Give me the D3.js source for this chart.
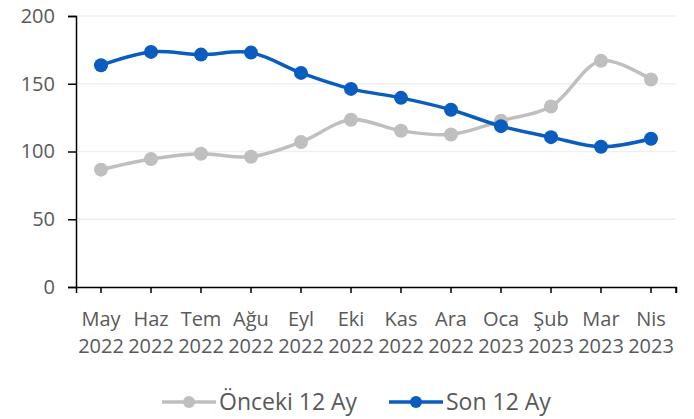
<!DOCTYPE html>
<html>
<head>
<meta charset="utf-8">
<script src="https://cdn.jsdelivr.net/npm/d3@7"></script>
<style>
  body { margin: 0; background: #fff; }
  svg text { font-family: "Open Sans", sans-serif; fill: #595959; }
</style>
</head>
<body>
<div id="chart"></div>
<script>
// chart data
let months = ["May", "Haz", "Tem", "Ağu", "Eyl", "Eki", "Kas", "Ara", "Oca", "Şub", "Mar", "Nis"];
let years = ["2022", "2022", "2022", "2022", "2022", "2022", "2022", "2022", "2023", "2023", "2023", "2023"];
let onceki = [86.6, 94.4, 98.3, 96.1, 107, 123.4, 115.3, 112.6, 122.7, 133.2, 166.9, 153.1];
let son = [163.7, 173.5, 171.5, 173, 158, 146.2, 139.6, 130.8, 118.7, 110.6, 103.5, 109.4];
let yTicks = [0, 50, 100, 150, 200];
let seriesNames = ["Önceki 12 Ay", "Son 12 Ay"];
let seriesColors = ["#BFBFBF", "#0A5CBE"];

let width = 694, height = 419;
let margin = {top: 16, right: 18, bottom: 132, left: 76};
let innerW = width - margin.left - margin.right;
let innerH = height - margin.top - margin.bottom;

let svg = d3.select("#chart").append("svg")
    .attr("width", width)
    .attr("height", height);

let g = svg.append("g")
    .attr("transform", "translate(" + margin.left + "," + margin.top + ")");

let x = d3.scaleBand()
    .domain(months.map(function(d, i) { return i; }))
    .range([0, innerW]);

let y = d3.scaleLinear()
    .domain([0, 200])
    .range([innerH, 0]);

let cx = function(i) { return x(i) + x.bandwidth() / 2; };

//gridlines
g.selectAll(".grid")
    .data(yTicks.filter(function(d) { return d > 0; }))
    .enter()
    .append("line")
    .attr("class", "grid")
    .attr("x1", 0)
    .attr("x2", innerW)
    .attr("y1", function(d) { return y(d); })
    .attr("y2", function(d) { return y(d); })
    .attr("stroke", "#EFEFEF")
    .attr("stroke-width", 1.5);

//y axis
let yAxis = g.append("g")
    .call(d3.axisLeft(y).tickValues(yTicks).tickSize(8).tickPadding(13));
yAxis.select(".domain").attr("stroke", "#000").attr("stroke-width", 1.5);
yAxis.selectAll(".tick line").attr("stroke", "#000").attr("stroke-width", 1.5);
yAxis.selectAll("text").style("font-size", "20px").attr("fill", "#595959");

//x axis
let xAxis = g.append("g")
    .attr("transform", "translate(0," + innerH + ")")
    .call(d3.axisBottom(x).tickSize(6).tickSizeOuter(6).tickFormat(""));
xAxis.select(".domain").attr("stroke", "#000").attr("stroke-width", 1.5);
xAxis.selectAll(".tick line").attr("stroke", "#000").attr("stroke-width", 1.5);
xAxis.append("line")
    .attr("x1", innerW).attr("x2", innerW)
    .attr("y1", 0).attr("y2", 6)
    .attr("stroke", "#000").attr("stroke-width", 1.5);

let labels = xAxis.selectAll(".tick")
    .append("text")
    .attr("text-anchor", "middle")
    .style("font-size", "20px")
    .attr("fill", "#595959");
labels.append("tspan")
    .attr("x", 0).attr("y", 39)
    .text(function(d) { return months[d]; });
labels.append("tspan")
    .attr("x", 0).attr("y", 66)
    .text(function(d) { return years[d]; });

//lines
let line = d3.line()
    .x(function(d, i) { return cx(i); })
    .y(function(d) { return y(d); })
    .curve(d3.curveCatmullRom.alpha(0.5));

[onceki, son].forEach(function(values, k) {
    g.append("path")
        .datum(values)
        .attr("fill", "none")
        .attr("stroke", seriesColors[k])
        .attr("stroke-width", 3.5)
        .attr("d", line);
    g.selectAll(".dot" + k)
        .data(values)
        .enter()
        .append("circle")
        .attr("class", "dot" + k)
        .attr("cx", function(d, i) { return cx(i); })
        .attr("cy", function(d) { return y(d); })
        .attr("r", 7)
        .attr("fill", seriesColors[k]);
});

//legend
let legendX = [162, 389];
let legend = svg.selectAll(".legend")
    .data(seriesNames)
    .enter()
    .append("g")
    .attr("class", "legend")
    .attr("transform", function(d, i) { return "translate(" + legendX[i] + ",402)"; });
legend.append("line")
    .attr("x1", 0).attr("x2", 54)
    .attr("stroke", function(d, i) { return seriesColors[i]; })
    .attr("stroke-width", 3.5);
legend.append("circle")
    .attr("cx", 27)
    .attr("r", 6)
    .attr("fill", function(d, i) { return seriesColors[i]; });
legend.append("text")
    .attr("x", 57)
    .attr("dy", "0.35em")
    .style("font-size", "23px")
    .text(function(d) { return d; });
</script>
</body>
</html>
